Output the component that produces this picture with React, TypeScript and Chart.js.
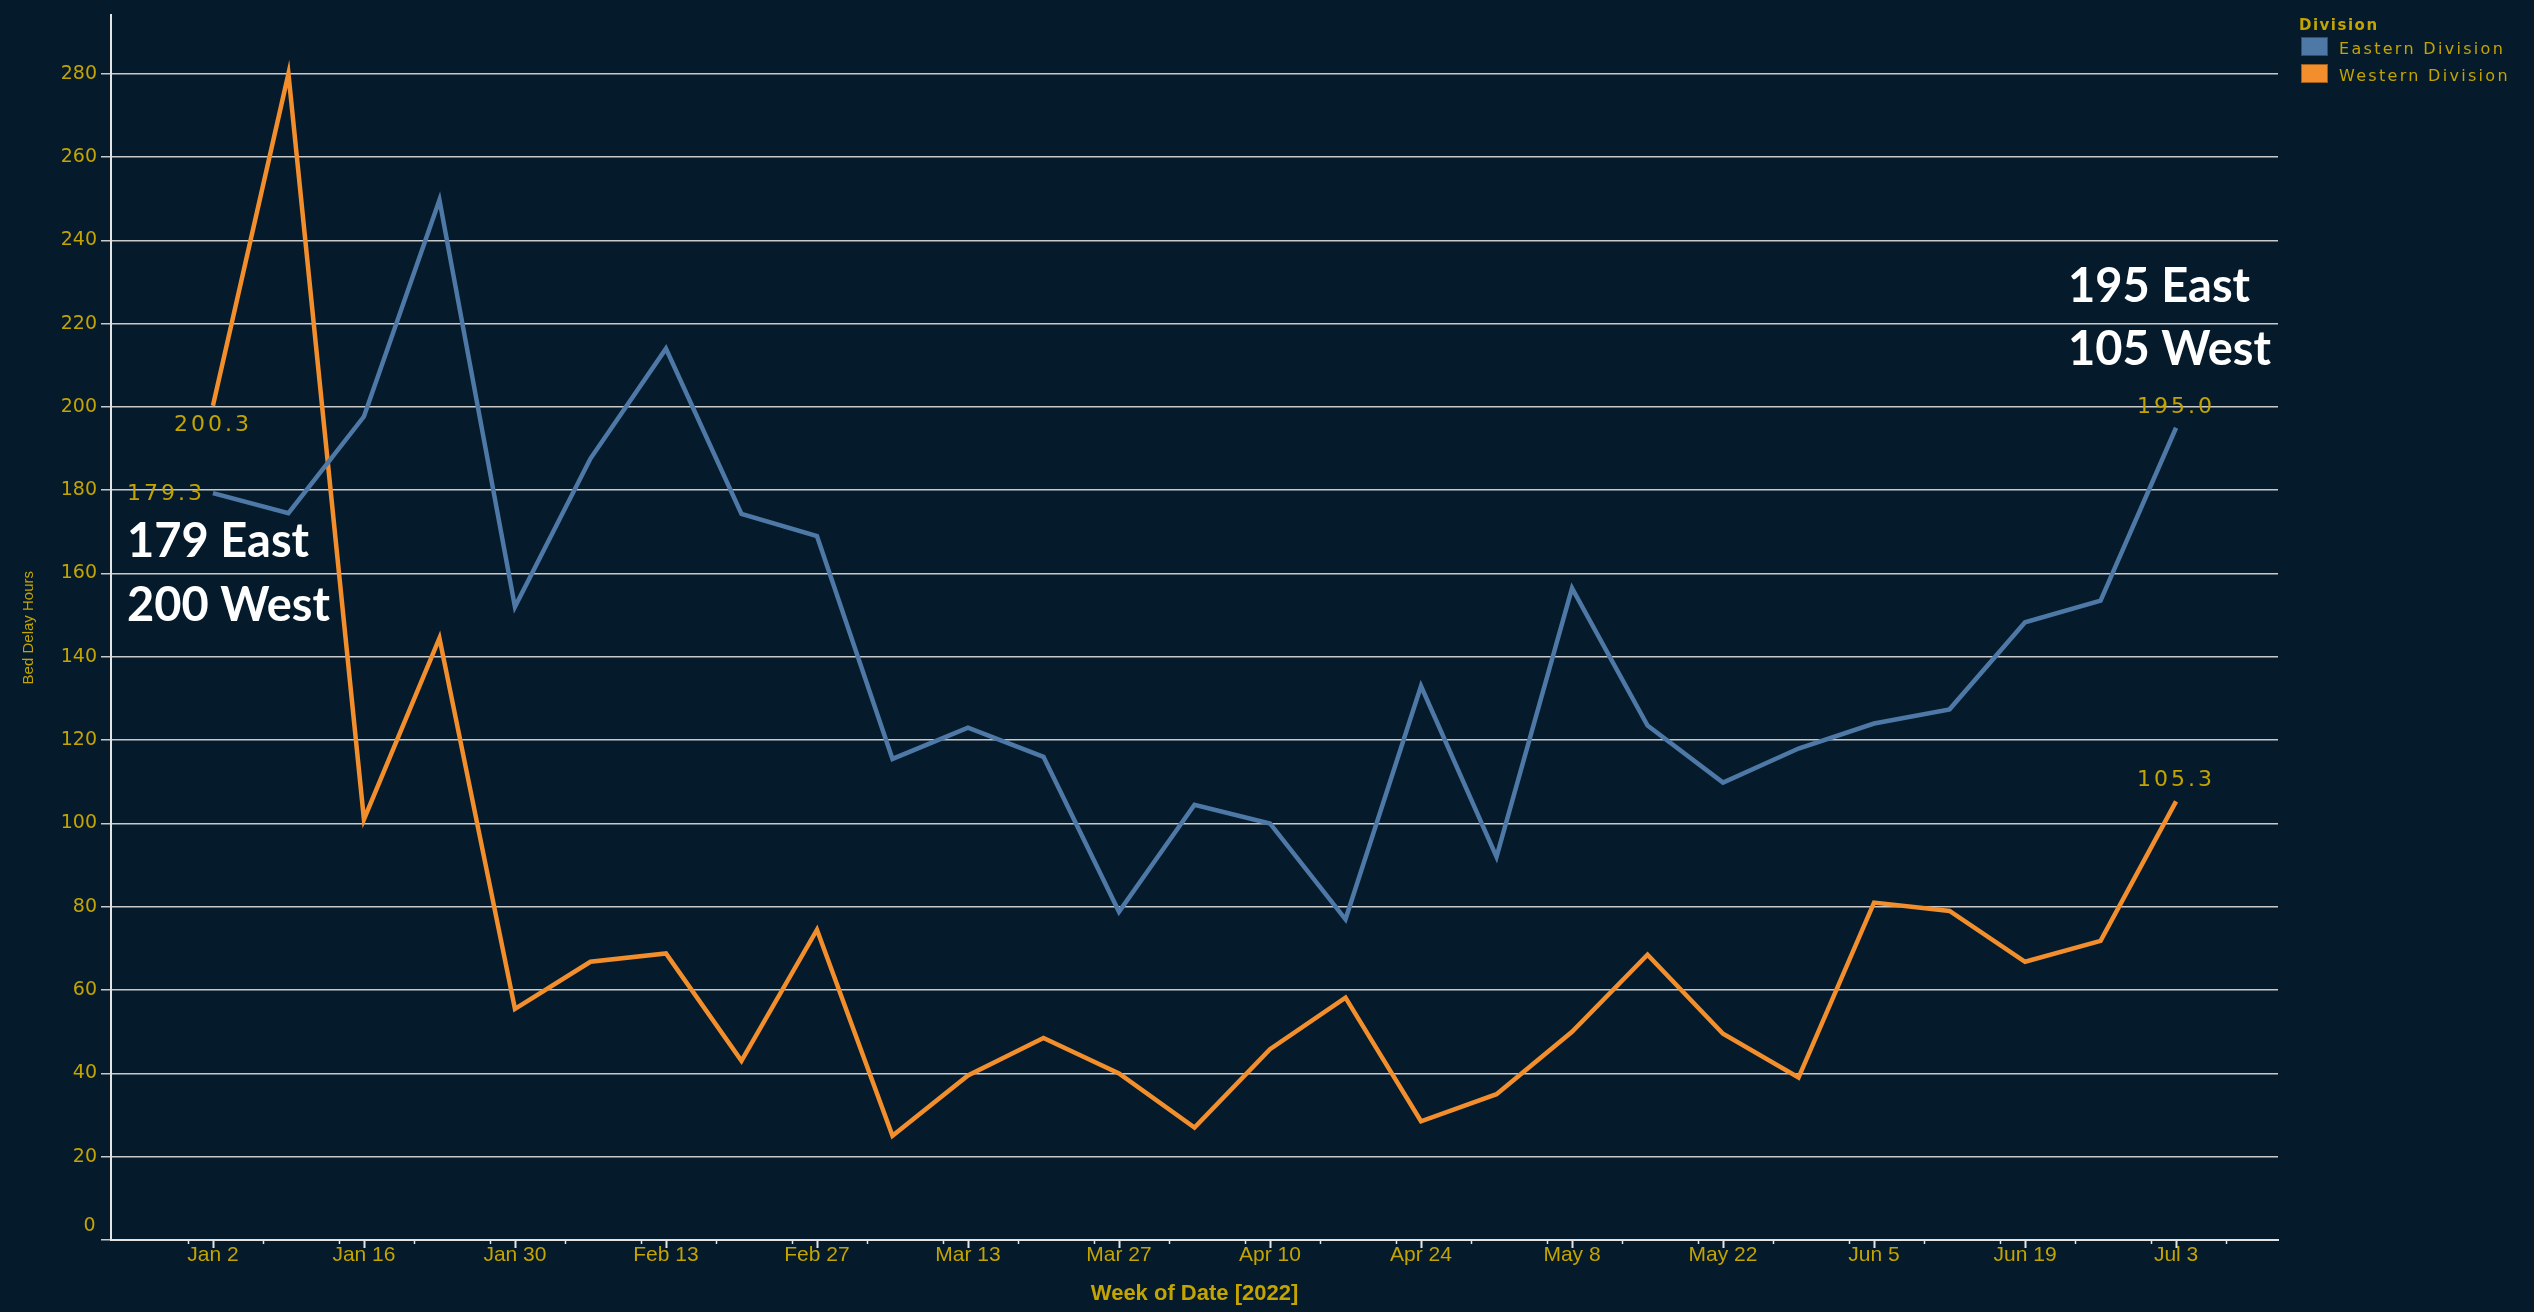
import React, { useEffect, useRef } from "react";
import { Chart, registerables } from "chart.js";

Chart.register(...registerables);

// ---------- data ----------
const weekLabels = [
  "Jan 2", "Jan 9", "Jan 16", "Jan 23", "Jan 30", "Feb 6", "Feb 13", "Feb 20", "Feb 27",
  "Mar 6", "Mar 13", "Mar 20", "Mar 27", "Apr 3", "Apr 10", "Apr 17", "Apr 24", "May 1",
  "May 8", "May 15", "May 22", "May 29", "Jun 5", "Jun 12", "Jun 19", "Jun 26", "Jul 3",
];
const easternDivision = [
  179.3, 174.5, 197.7, 249.7, 152.0, 187.6, 214.0, 174.3, 169.0, 115.5, 123.0, 116.0, 78.8,
  104.5, 100.0, 77.0, 133.0, 92.0, 156.5, 123.5, 109.8, 118.0, 124.0, 127.4, 148.3, 153.5, 195.0,
];
const westernDivision = [
  200.3, 280.0, 101.0, 144.5, 55.5, 66.8, 68.8, 43.0, 74.5, 25.0, 39.5, 48.5, 40.0,
  27.0, 45.8, 58.2, 28.5, 35.0, 50.0, 68.5, 49.5, 39.0, 81.0, 79.0, 66.8, 71.8, 105.3,
];
const seriesNames = ["Eastern Division", "Western Division"];
const legendTitle = "Division";
const xAxisTitle = "Week of Date [2022]";
const yAxisTitle = "Bed Delay Hours";
const yMin = 0;
const yMax = 294;
const yStep = 20;
const xTickEvery = 2;

// ---------- style ----------
const BG = "#051b2c";
const GOLD = "#c4a400";
const BLUE = "#4e79a7";
const ORANGE = "#f28e2b";
const GRID = "#c9c9c9";
const AXIS = "#e4e4e4";

export default function App() {
  const ref = useRef<HTMLCanvasElement | null>(null);

  useEffect(() => {
    document.body.style.margin = "0";
    document.body.style.background = BG;
    const canvas = ref.current!;
    const n = weekLabels.length;
    const toPts = (arr: number[]) => arr.map((y, i) => ({ x: i, y }));

    const decor = {
      id: "decor",
      beforeDraw(chart: any) {
        const ctx = chart.ctx;
        ctx.save();
        ctx.fillStyle = BG;
        ctx.fillRect(0, 0, chart.width, chart.height);
        ctx.restore();
      },
      afterDatasetsDraw(chart: any) {
        const ctx = chart.ctx;
        const xs = chart.scales.x;
        const ys = chart.scales.y;
        ctx.save();
        ctx.letterSpacing = "3px";
        ctx.font = "22px 'DejaVu Sans'";
        ctx.fillStyle = GOLD;
        let px = xs.getPixelForValue(0);
        let py = ys.getPixelForValue(westernDivision[0]);
        ctx.textAlign = "center";
        ctx.textBaseline = "middle";
        ctx.fillText(westernDivision[0].toFixed(1), px, py + 20);
        py = ys.getPixelForValue(easternDivision[0]);
        ctx.textAlign = "right";
        ctx.fillText(easternDivision[0].toFixed(1), px - 8, py + 1);
        const li = n - 1;
        px = xs.getPixelForValue(li);
        ctx.textAlign = "center";
        ctx.fillText(easternDivision[li].toFixed(1), px, ys.getPixelForValue(easternDivision[li]) - 20);
        ctx.fillText(westernDivision[li].toFixed(1), px, ys.getPixelForValue(westernDivision[li]) - 21);
        ctx.restore();
      },
      afterDraw(chart: any) {
        const ctx = chart.ctx;
        const xs = chart.scales.x;
        const ys = chart.scales.y;
        const area = chart.chartArea;
        ctx.save();
        // zero label, nudged up like the original
        ctx.fillStyle = GOLD;
        ctx.font = "19px 'DejaVu Sans'";
        ctx.letterSpacing = "1.5px";
        ctx.textAlign = "right";
        ctx.textBaseline = "middle";
        ctx.fillText(String(yMin), area.left - 14, ys.getPixelForValue(yMin) - 14);

        // x axis tick marks (major every 2 weeks, minor weekly)
        ctx.strokeStyle = AXIS;
        ctx.lineWidth = 2;
        for (let i = 0; i < n; i += xTickEvery) {
          const x = Math.round(xs.getPixelForValue(i)) + 0.5;
          ctx.beginPath();
          ctx.moveTo(x, area.bottom);
          ctx.lineTo(x, area.bottom + 8);
          ctx.stroke();
        }
        ctx.lineWidth = 1.5;
        for (let i = -1; i < n; i++) {
          const v = i + 2 / 3;
          if (v < xs.min || v > xs.max) continue;
          const x = Math.round(xs.getPixelForValue(v)) + 0.5;
          ctx.beginPath();
          ctx.moveTo(x, area.bottom);
          ctx.lineTo(x, area.bottom + 4);
          ctx.stroke();
        }

        // annotations
        ctx.letterSpacing = "0px";
        ctx.fillStyle = "#ffffff";
        ctx.font = "bold 47px Lato";
        ctx.textAlign = "left";
        ctx.textBaseline = "alphabetic";
        ctx.fillText(`${Math.round(easternDivision[0])} East`, area.left + 16, 557);
        ctx.fillText(`${Math.round(westernDivision[0])} West`, area.left + 16, 621);
        ctx.fillText(`${Math.round(easternDivision[n - 1])} East`, 2068, 302);
        ctx.fillText(`${Math.round(westernDivision[n - 1])} West`, 2068, 365);

        // legend
        ctx.fillStyle = GOLD;
        ctx.letterSpacing = "1.5px";
        ctx.font = "bold 15px 'DejaVu Sans'";
        ctx.fillText(legendTitle, 2299, 30);
        const colors = [BLUE, ORANGE];
        ctx.font = "16px 'DejaVu Sans'";
        ctx.letterSpacing = "2.3px";
        seriesNames.forEach((name, k) => {
          const top = 37 + k * 27;
          ctx.fillStyle = colors[k];
          ctx.fillRect(2301, top, 27, 19);
          ctx.strokeStyle = "rgba(0,0,0,0.35)";
          ctx.lineWidth = 1;
          ctx.strokeRect(2301.5, top + 0.5, 26, 18);
          ctx.fillStyle = GOLD;
          ctx.fillText(name, 2339, top + 17);
        });
        ctx.restore();
      },
    };

    const chart = new Chart(canvas, {
      type: "line",
      data: {
        datasets: [
          {
            label: seriesNames[0],
            data: toPts(easternDivision),
            borderColor: BLUE,
            backgroundColor: BLUE,
            borderWidth: 4.5,
            pointRadius: 0,
            tension: 0,
          },
          {
            label: seriesNames[1],
            data: toPts(westernDivision),
            borderColor: ORANGE,
            backgroundColor: ORANGE,
            borderWidth: 4.5,
            pointRadius: 0,
            tension: 0,
          },
        ],
      },
      options: {
        animation: false,
        responsive: false,
        devicePixelRatio: 1,
        layout: { padding: { left: 0, right: 256, top: 10, bottom: 0 } },
        plugins: { legend: { display: false }, tooltip: { enabled: false } },
        scales: {
          x: {
            type: "linear",
            min: -1.35,
            max: 27.35,
            afterFit: (s: any) => {
              s.height = 72;
            },
            ticks: {
              stepSize: xTickEvery,
              includeBounds: false,
              autoSkip: false,
              maxRotation: 0,
              padding: 5,
              color: GOLD,
              font: { family: "'Liberation Sans', Arial, sans-serif", size: 21, lineHeight: 1 },
              callback: (v: any) => weekLabels[Number(v)] ?? "",
            },
            grid: { display: true, drawOnChartArea: false, drawTicks: false, color: "transparent" },
            border: { display: true, color: AXIS, width: 2 },
            title: {
              display: true,
              text: xAxisTitle,
              color: GOLD,
              font: { family: "'Liberation Sans', Arial, sans-serif", size: 22, weight: "bold", lineHeight: 1.2 },
              padding: { top: 0, bottom: 5 },
            },
          },
          y: {
            min: yMin,
            max: yMax,
            afterFit: (s: any) => {
              s.width = 111;
            },
            ticks: {
              stepSize: yStep,
              includeBounds: false,
              padding: 4,
              color: GOLD,
              font: { family: "'DejaVu Sans', sans-serif", size: 19 },
              callback: (v: any) => (Number(v) === yMin ? "" : String(v)),
            },
            grid: { color: GRID, lineWidth: 1.5, tickLength: 10, tickColor: GRID },
            border: { display: true, color: AXIS, width: 2 },
            title: {
              display: true,
              text: yAxisTitle,
              color: GOLD,
              font: { family: "'Liberation Sans', Arial, sans-serif", size: 15, lineHeight: 1.2 },
              padding: { top: 20, bottom: 0 },
            },
          },
        },
      },
      plugins: [decor],
    } as any);

    return () => chart.destroy();
  }, []);

  return (
    <div style={{ width: 2534, height: 1312, background: BG }}>
      <canvas ref={ref} width={2534} height={1312} style={{ display: "block", width: 2534, height: 1312 }} />
    </div>
  );
}
